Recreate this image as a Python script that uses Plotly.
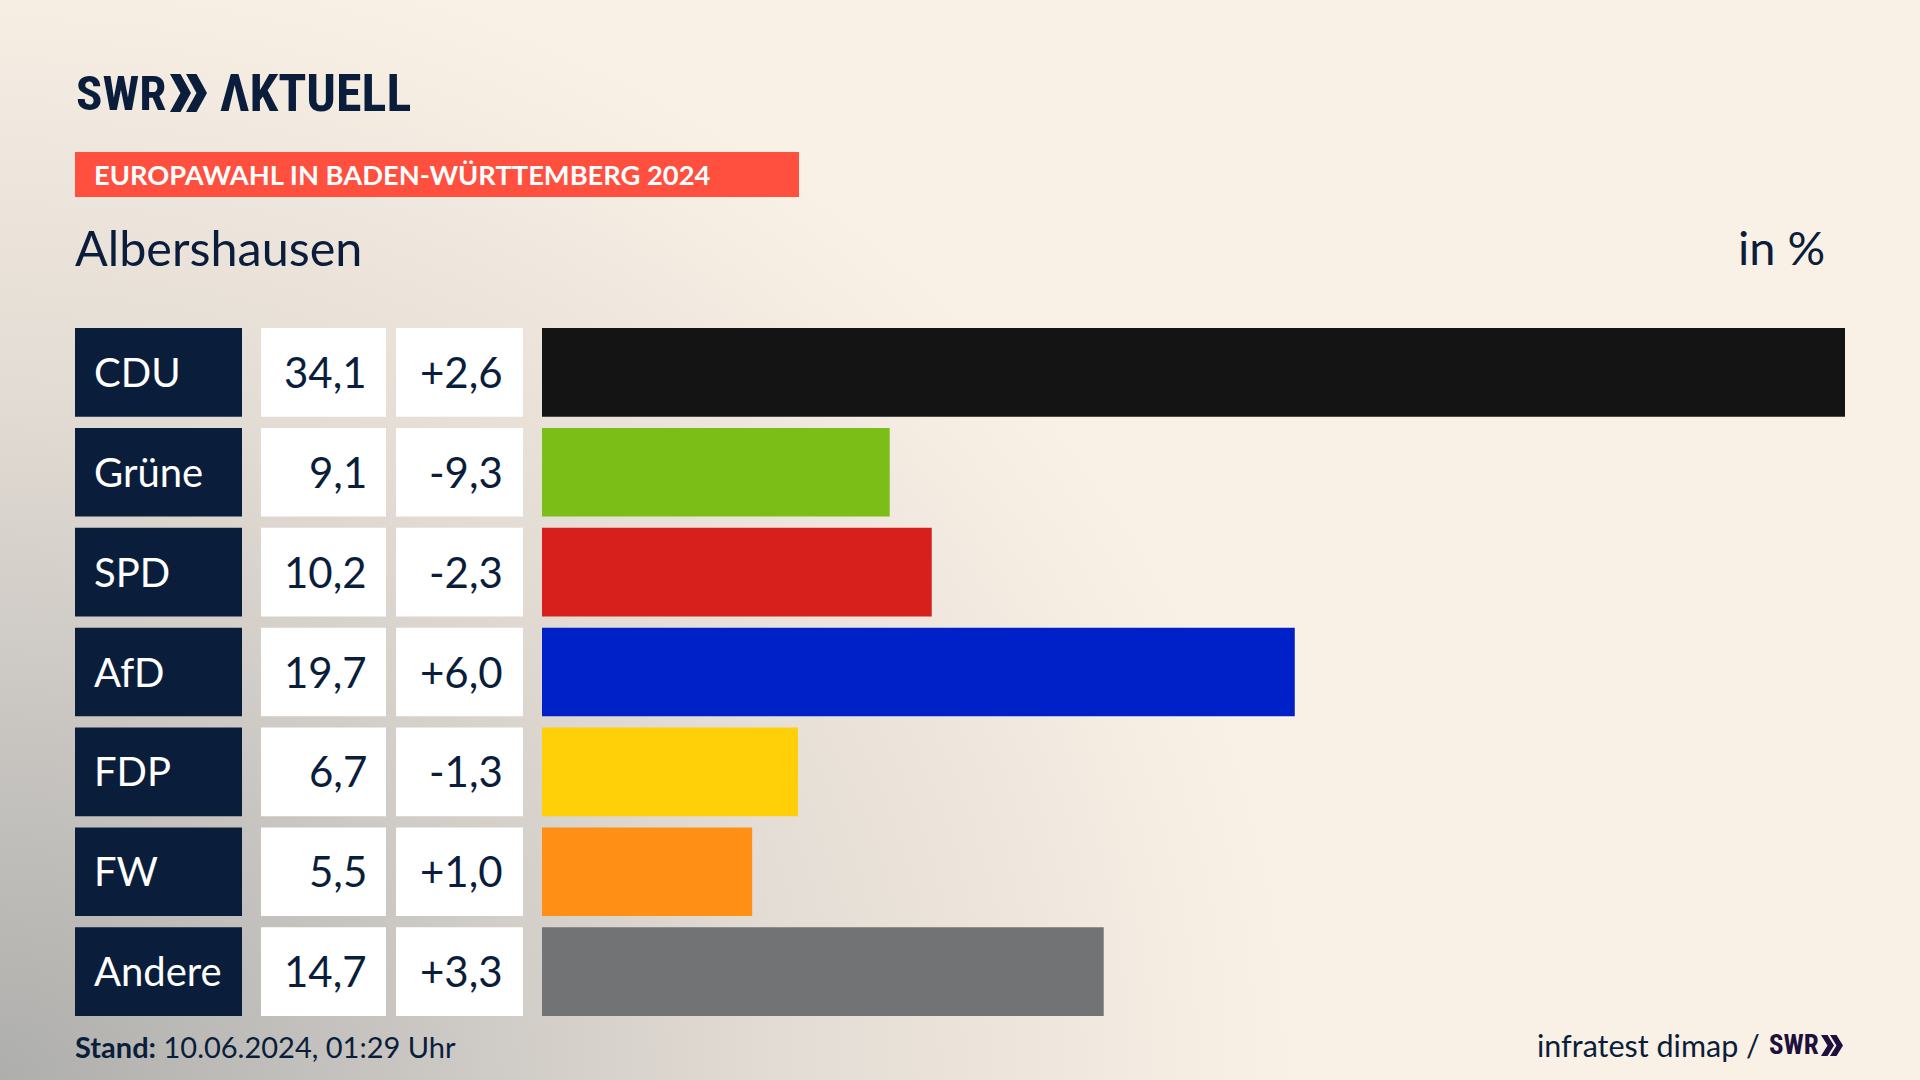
# Europawahl result chart for one municipality, SWR Aktuell style
import base64
import plotly.graph_objects as go

W, H = 1920, 1080

parties = ['CDU', 'Grüne', 'SPD', 'AfD', 'FDP', 'FW', 'Andere']
results = [34.1, 9.1, 10.2, 19.7, 6.7, 5.5, 14.7]
changes = [2.6, -9.3, -2.3, 6.0, -1.3, 1.0, 3.3]
colors = ['#141414', '#7CBE18', '#D7201C', '#0021C8', '#FFCF08', '#FF8F15', '#727375']

NAVY = '#0A1E3C'
FONT = 'Lato'
LOGO_FONT = 'Roboto Condensed, Roboto'


def fx(x):
    return x / W


def fy(y):
    return 1 - y / H


def num(v, sign=False):
    s = f'{v:+.1f}' if sign else f'{v:.1f}'
    return s.replace('.', ',')


def chevrons(x0, y0, y1, w, gap, color):
    # two arrow heads of the SWR logo
    out = []
    mid = (y0 + y1) / 2
    for k in range(2):
        a = x0 + k * gap
        pts = [(a, y0), (a + w * 0.5, y0), (a + w, mid), (a + w * 0.5, y1), (a, y1), (a + w * 0.5, mid)]
        path = 'M ' + ' L '.join(f'{fx(px):.5f},{fy(py):.5f}' for px, py in pts) + ' Z'
        out.append(dict(type='path', xref='paper', yref='paper', path=path,
                        fillcolor=color, line_width=0, layer='above'))
    return out


# cream background with the grey glow from the lower left corner
svg = f'''<svg xmlns="http://www.w3.org/2000/svg" width="{W}" height="{H}">
<defs><radialGradient id="g" gradientUnits="userSpaceOnUse" cx="0" cy="0" r="1"
gradientTransform="translate(0 {H}) scale(1300 1150)">
<stop offset="0" stop-color="#AEAEAC"/>
<stop offset="0.3" stop-color="#C8C5C1"/>
<stop offset="0.6" stop-color="#E3DCD4"/>
<stop offset="1" stop-color="#FAF1E6"/>
</radialGradient></defs>
<rect width="{W}" height="{H}" fill="#FAF1E6"/>
<rect width="{W}" height="{H}" fill="url(#g)"/>
</svg>'''
bg_uri = 'data:image/svg+xml;base64,' + base64.b64encode(svg.encode()).decode()

fig = go.Figure()
fig.add_trace(go.Bar(
    x=results,
    y=parties,
    orientation='h',
    marker=dict(color=colors, line_width=0),
    hoverinfo='skip',
))

half = 0.4435
shapes = []
annotations = []


def label(text, x, y, size, color=NAVY, anchor='left', font=FONT, yref='paper', bold=False):
    yy = fy(y) if yref == 'paper' else y
    annotations.append(dict(
        text=f'<b>{text}</b>' if bold else text,
        xref='paper', yref=yref, x=fx(x), y=yy,
        xanchor=anchor, yanchor='middle', showarrow=False,
        font=dict(family=font, size=size, color=color),
    ))


for i, party in enumerate(parties):
    for x0, x1, col in [(75, 242, NAVY), (261, 386, 'white'), (396, 523, 'white')]:
        shapes.append(dict(type='rect', xref='paper', yref='y', x0=fx(x0), x1=fx(x1),
                           y0=i - half, y1=i + half, fillcolor=col, line_width=0, layer='below'))
    label(party, 92, i - 0.005, 40, color='white', yref='y')
    label(num(results[i]), 369, i - 0.005, 42, anchor='right', yref='y')
    label(num(changes[i], sign=True), 505, i - 0.005, 42, anchor='right', yref='y')

# header
shapes.append(dict(type='rect', xref='paper', yref='paper', x0=fx(75), x1=fx(799),
                   y0=fy(197), y1=fy(152), fillcolor='#FF4F3F', line_width=0))
label('EUROPAWAHL IN BADEN-WÜRTTEMBERG 2024', 92, 175, 27.3, color='white', bold=True)
label('Albershausen', 73, 246.5, 48.5)
label('in %', 1827, 246.5, 47, anchor='right')
label('<b>SWR</b>', 74, 93, 49, font=LOGO_FONT)
label('<b>ΛKTUELL</b>', 218, 93, 52, font=LOGO_FONT)
shapes += chevrons(170, 74, 112, 21, 16, NAVY)

# footer
label('<b>Stand:</b> 10.06.2024, 01:29 Uhr', 73, 1046, 29)
label('infratest dimap /', 1762, 1045, 30.5, anchor='right')
label('<b>SWR</b>', 1767, 1045, 27, color='#1E0F3C', font=LOGO_FONT)
shapes += chevrons(1821, 1035, 1056, 13, 9, '#1E0F3C')

fig.update_layout(
    width=W,
    height=H,
    margin=dict(l=0, r=0, t=0, b=0),
    paper_bgcolor='#FAF1E6',
    plot_bgcolor='rgba(0,0,0,0)',
    showlegend=False,
    bargap=0.113,
    xaxis=dict(domain=[fx(542), fx(1845)], range=[0, 34.1], visible=False),
    yaxis=dict(domain=[fy(1021.6), fy(322.4)], range=[6.5, -0.5], visible=False,
               type='category', categoryorder='array', categoryarray=parties),
    shapes=shapes,
    annotations=annotations,
    images=[dict(source=bg_uri, xref='paper', yref='paper', x=0, y=1, sizex=1, sizey=1,
                 xanchor='left', yanchor='top', sizing='stretch', layer='below')],
)

fig.write_html('out.html', config=dict(displayModeBar=False),
               post_script="document.body.style.margin='0';")
